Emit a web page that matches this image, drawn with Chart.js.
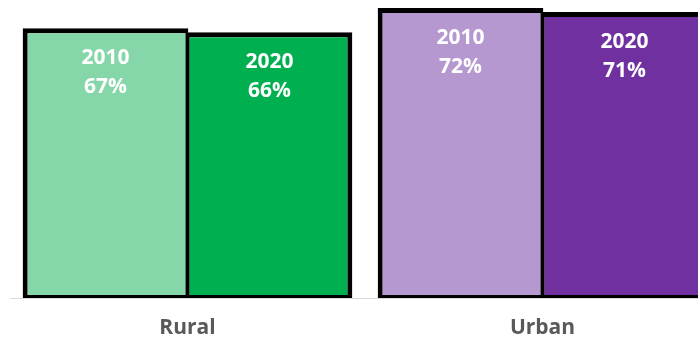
<!DOCTYPE html>
<html>
<head>
<meta charset="utf-8">
<script src="https://cdn.jsdelivr.net/npm/chart.js@4.4.0/dist/chart.umd.min.js"></script>
<style>
  html, body { margin: 0; padding: 0; background: #fff; overflow: hidden; }
  #wrap { width: 730px; height: 338px; }
</style>
</head>
<body>
<div id="wrap"><canvas id="chart"></canvas></div>
<script>
// data
const categories = ['Rural', 'Urban'];
const years = ['2010', '2020'];
const values2010 = [67, 72];
const values2020 = [66, 71];

const fills2010 = ['#85D6A8', '#B598CF'];
const fills2020 = ['#00B050', '#7030A0'];

// draws "year / value%" inside the top of each bar
const barLabels = {
    id: 'barLabels',
    afterDatasetsDraw(chart) {
        const ctx = chart.ctx;
        ctx.save();
        ctx.fillStyle = '#ffffff';
        ctx.font = 'bold 21px "Open Sans", sans-serif';
        ctx.textAlign = 'center';
        ctx.textBaseline = 'middle';
        chart.data.datasets.forEach((ds, i) => {
            chart.getDatasetMeta(i).data.forEach((bar, j) => {
                ctx.fillText(ds.label, bar.x, bar.y + 30);
                ctx.fillText(ds.data[j] + '%', bar.x, bar.y + 59);
            });
        });
        ctx.restore();
    }
};

new Chart(document.getElementById('chart'), {
    type: 'bar',
    data: {
        labels: categories,
        datasets: [
            {
                label: years[0],
                data: values2010,
                backgroundColor: fills2010,
                borderColor: '#000000',
                borderWidth: { top: 5, left: 5, right: 3, bottom: 3 },
                borderSkipped: false,
                barPercentage: 1.01,
                categoryPercentage: 0.924
            },
            {
                label: years[1],
                data: values2020,
                backgroundColor: fills2020,
                borderColor: '#000000',
                borderWidth: { top: 5, left: 3, right: 5, bottom: 3 },
                borderSkipped: false,
                barPercentage: 1.01,
                categoryPercentage: 0.924
            }
        ]
    },
    options: {
        responsive: true,
        maintainAspectRatio: false,
        animation: false,
        layout: { padding: { left: 10, right: 10, top: 0, bottom: 0 } },
        plugins: {
            legend: { display: false },
            tooltip: { enabled: false }
        },
        scales: {
            x: {
                grid: { display: false },
                border: { display: true, color: '#D9D9D9', width: 1 },
                ticks: {
                    color: '#595959',
                    font: { family: '"Open Sans", sans-serif', size: 21, weight: 'bold' },
                    padding: 9
                },
                afterFit(scale) { scale.height = 40; }
            },
            y: {
                display: false,
                min: 0,
                max: 74
            }
        }
    },
    plugins: [barLabels]
});
</script>
</body>
</html>
